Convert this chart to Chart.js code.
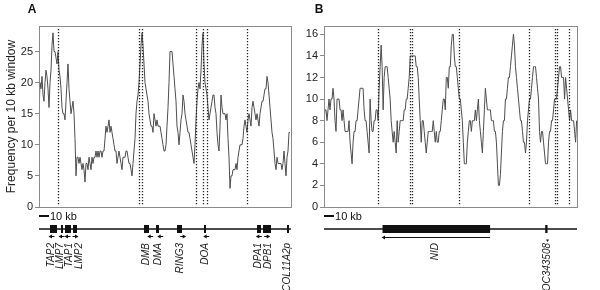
<!DOCTYPE html>
<html><head><meta charset="utf-8">
<script src="https://cdn.jsdelivr.net/npm/chart.js@4/dist/chart.umd.min.js"></script>
<style>
html,body{margin:0;padding:0;background:#fff;}
#wrap{position:relative;width:600px;height:290px;}
.p{position:absolute;top:0;width:300px;height:290px;}
</style></head><body>
<div id="wrap">
<div class="p" style="left:0"><canvas id="cA" width="300" height="290"></canvas></div>
<div class="p" style="left:300px"><canvas id="cB" width="300" height="290"></canvas></div>
</div>
<script>
// Panel A: frequency per 10 kb window, one value per kb (0..251 kb)
const freqA = [15,20,19,21,18,17,20,22,21,19,16,20,22,26,28,25,25,24,23,25,
22,21,19,16,15,15,14,17,20,23,19,17,15,16,17,15,11,5,8,8,
7,8,7,6,7,6,4,7,7,6,8,7,6,8,7,8,8,9,8,9,
8,9,9,8,9,9,11,13,12,13,14,12,13,12,11,10,9,9,7,8,
9,8,7,6,8,8,8,9,9,8,7,7,6,5,7,9,11,15,17,18,
20,23,26,28,26,23,20,19,18,17,15,14,13,13,12,15,14,13,14,13,
13,13,12,11,10,9,9,10,13,16,20,25,25,25,23,21,19,17,13,12,
10,12,14,15,18,17,15,14,13,12,12,11,10,9,8,7,10,14,17,19,
20,19,22,26,28,23,20,19,18,16,14,15,16,17,18,18,16,15,12,10,
9,13,18,16,15,15,15,14,15,11,8,3,5,5,6,6,6,7,6,8,
9,10,10,10,11,13,14,13,12,14,15,14,13,16,17,16,15,14,15,14,
13,15,16,17,17,18,19,19,21,20,18,16,14,12,11,9,7,6,8,7,
7,7,7,6,7,9,7,5,8,9,12,12];
// Panel B: one value per kb (0..252 kb)
const freqB = [8,9,9,8,9,10,9,10,10,11,10,8,7,10,10,10,9,9,8,9,
8,7,7,7,7,8,6,5,4,6,7,7,8,8,9,10,11,11,11,11,
9,8,8,7,6,5,10,8,7,7,8,8,9,9,8,11,13,15,13,9,
12,13,13,13,12,11,10,8,7,6,7,6,5,8,6,7,8,8,8,8,
9,9,10,10,11,12,14,14,14,14,14,14,13,13,12,10,8,6,8,8,
7,6,5,6,7,7,7,7,7,8,7,6,7,6,6,7,7,8,9,10,
10,9,12,12,11,13,13,15,16,16,14,13,13,12,11,10,10,9,8,6,
4,4,4,6,7,8,8,7,8,8,8,9,8,9,10,8,7,6,5,7,
9,11,10,9,9,9,9,8,8,8,7,7,6,4,2,2,3,5,7,8,
8,10,10,11,12,12,13,14,15,16,15,13,12,11,10,9,8,8,7,6,
6,5,6,8,9,10,10,11,12,13,13,13,12,11,10,7,6,7,7,6,
5,4,4,4,6,7,7,8,8,9,10,10,10,11,12,13,13,12,12,12,
10,12,11,10,9,8,9,8,8,8,7,6,8];
const yTicksA = [0,5,10,15,20,25];
const yTicksB = [0,2,4,6,8,10,12,14,16];
const markersA = [19,100.3,102.7,157,163.7,167.7,207.7];
const markersB = [53.7,85.7,87.7,134.4,204.4,230.7,232.7,244.4];
const genesA = ['TAP2','LMP7','TAP1','LMP2','DMB','DMA','RING3','DOA','DPA1','DPB1','COL11A2p'];
const geneStartA = [11,22,26,34,105,117,138,165,218,224,248];
const geneEndA = [18,24,32,38,110,120,143,167,222,232,250];
const labelPosA = [12.7,21,30.3,40,107.7,119.3,141,166.7,219.3,229.3,248.3];
const arrowPosA = [13,23,29,36,111.7,121.7,143.7,167.7,220.3,227.7,null];
const strandA = [-1,-1,-1,1,-1,-1,1,-1,-1,1,0];
const genesB = ['NID','LOC343508'];
const geneStartB = [58.4,220.7];
const geneEndB = [165.7,223];
const labelPosB = [110.7,222.4];
const strandB = [-1,0];

const FONT = "'Liberation Sans', Arial, sans-serif";

const mapPlugin = {
  id: 'map',
  afterDraw(chart) {
    const c = chart.options.plugins.map;
    const ctx = chart.ctx, xs = chart.scales.x, ca = chart.chartArea;
    const X = v => xs.getPixelForValue(v);
    ctx.save();
    // dotted marker lines
    ctx.strokeStyle = '#222'; ctx.lineWidth = 1.3; ctx.setLineDash([1.3, 1.7]);
    c.markers.forEach(m => {
      const px = Math.round(X(m)) + 0.5;
      ctx.beginPath(); ctx.moveTo(px, ca.top + 3); ctx.lineTo(px, ca.bottom - 1); ctx.stroke();
    });
    ctx.setLineDash([]);
    // frame
    ctx.strokeStyle = '#8a8a8a'; ctx.lineWidth = 1;
    ctx.strokeRect(Math.round(ca.left) + 0.5, Math.round(ca.top) + 0.5,
                   Math.round(ca.right - ca.left), Math.round(ca.bottom - ca.top));
    // panel letter
    ctx.fillStyle = '#111'; ctx.font = 'bold 12px ' + FONT;
    ctx.textAlign = 'center'; ctx.textBaseline = 'middle';
    ctx.fillText(c.letter, ca.left + c.letterDx, 10);
    // scale bar
    ctx.strokeStyle = '#111'; ctx.lineWidth = 2;
    ctx.beginPath(); ctx.moveTo(X(0), 216); ctx.lineTo(X(10), 216); ctx.stroke();
    ctx.font = '11px ' + FONT; ctx.textAlign = 'left';
    ctx.fillText('10 kb', X(10) + 1, 216.5);
    // main map line
    ctx.lineWidth = 1.5;
    ctx.beginPath(); ctx.moveTo(ca.left, 229); ctx.lineTo(ca.right, 229); ctx.stroke();
    // gene boxes
    c.starts.forEach((s, i) => {
      const x0 = X(s), x1 = X(c.ends[i]);
      ctx.fillRect(x0, 225, Math.max(2, x1 - x0), 8);
    });
    // strand arrows
    ctx.lineWidth = 1;
    c.strand.forEach((d, i) => {
      if (!d) return;
      let xa, xb;
      if (c.long) { xa = X(c.starts[i]); xb = X(c.ends[i]); }
      else { const m = X(c.arrows[i]); xa = m - 2.5; xb = m + 2.5; }
      const y = c.long ? 237.5 : 236.5;
      ctx.beginPath(); ctx.moveTo(xa, y); ctx.lineTo(xb, y); ctx.stroke();
      const tip = d < 0 ? xa - 1 : xb + 1, dir = d < 0 ? 1 : -1;
      ctx.beginPath(); ctx.moveTo(tip, y); ctx.lineTo(tip + dir * 3.5, y - 2); ctx.lineTo(tip + dir * 3.5, y + 2); ctx.closePath(); ctx.fill();
    });
    if (c.long) {
      // small marker for single-exon gene
      const m = X(c.ends[1]);
      ctx.beginPath(); ctx.moveTo(m - 1.5, 239.5); ctx.lineTo(m + 1.5, 239.5); ctx.lineTo(m, 242); ctx.closePath(); ctx.fill();
    }
    // rotated gene labels
    ctx.font = 'italic 10px ' + FONT; ctx.fillStyle = '#222';
    c.names.forEach((n, i) => {
      ctx.save();
      ctx.translate(X(c.labels[i]), 243);
      ctx.rotate(-Math.PI / 2);
      ctx.textAlign = 'right'; ctx.textBaseline = 'middle';
      ctx.fillText(n, 0, 0);
      ctx.restore();
    });
    ctx.restore();
  }
};

function makeChart(id, values, ticks, ymax, xmax, yWidth, rightPad, title, mapCfg) {
  return new Chart(document.getElementById(id), {
    type: 'line',
    data: { datasets: [{
      data: values.map((v, i) => ({ x: i, y: v })),
      borderColor: '#4d4d4d', borderWidth: 1, pointRadius: 0, tension: 0, fill: false
    }]},
    options: {
      responsive: false, animation: false, devicePixelRatio: 1,
      layout: { padding: { left: 0, right: rightPad, top: 26, bottom: 83 } },
      plugins: { legend: { display: false }, tooltip: { enabled: false }, map: mapCfg },
      scales: {
        x: { type: 'linear', min: 0, max: xmax, display: false },
        y: {
          min: 0, max: ymax,
          afterFit: s => { s.width = yWidth; },
          afterBuildTicks: s => { s.ticks = ticks.map(v => ({ value: v })); },
          grid: { drawOnChartArea: false, drawTicks: true, tickLength: 4, color: '#8a8a8a' },
          border: { display: true, color: '#8a8a8a' },
          ticks: { padding: 2, color: '#222', font: { family: FONT, size: 11 } },
          title: { display: !!title, text: title, color: '#222', font: { family: FONT, size: 12 } }
        }
      }
    },
    plugins: [mapPlugin]
  });
}

makeChart('cA', freqA, yTicksA, 29.1, 252, 39, 9, 'Frequency per 10 kb window', {
  letter: 'A', letterDx: -7, markers: markersA, names: genesA, starts: geneStartA, ends: geneEndA,
  labels: labelPosA, arrows: arrowPosA, strand: strandA, long: false
});
makeChart('cB', freqB, yTicksB, 16.77, 252.4, 24, 23, '', {
  letter: 'B', letterDx: -5, markers: markersB, names: genesB, starts: geneStartB, ends: geneEndB,
  labels: labelPosB, arrows: [null, null], strand: strandB, long: true
});
</script>
</body></html>
